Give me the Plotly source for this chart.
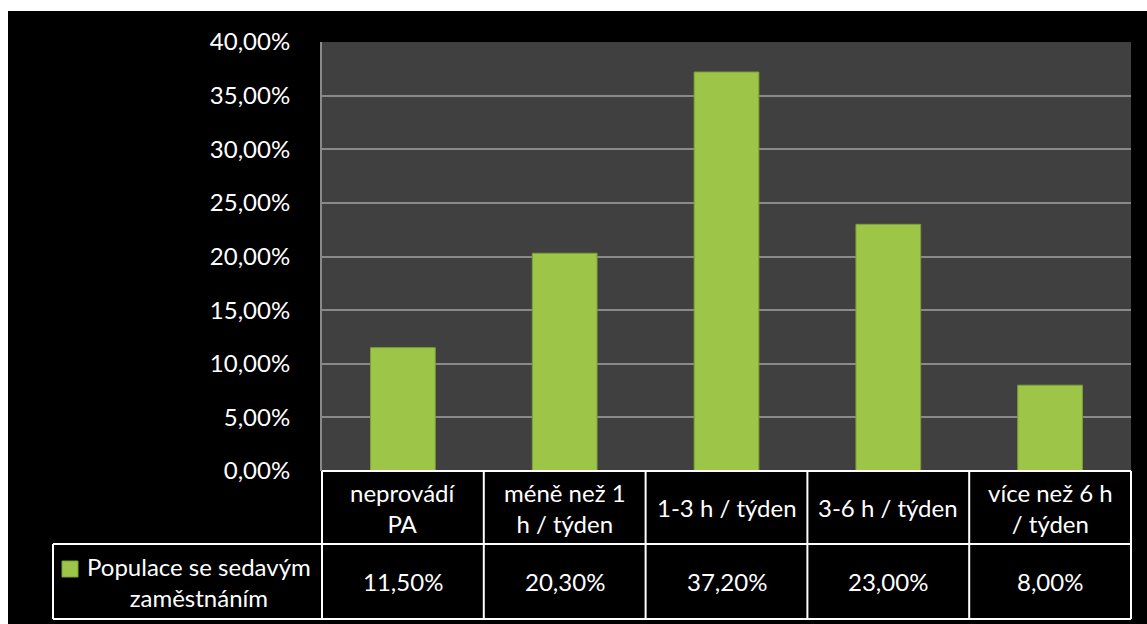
import plotly.graph_objects as go

categories = ["neprovádí PA", "méně než 1 h / týden", "1-3 h / týden", "3-6 h / týden", "více než 6 h / týden"]
header_labels = ["neprovádí<br>PA", "méně než 1<br>h / týden", "1-3 h / týden", "3-6 h / týden", "více než 6 h<br>/ týden"]
values = [0.115, 0.203, 0.372, 0.230, 0.080]
series_name = "Populace se sedavým<br>zaměstnáním"
y_ticks = [0, 0.05, 0.10, 0.15, 0.20, 0.25, 0.30, 0.35, 0.40]

W, H = 1147, 624
L, R, T, B = 322, 16, 42, 153
pw, ph = W - L - R, H - T - B

def px_x(px):
    return (px - L) / pw

def px_y(py):
    return (H - B - py) / ph

FONT = "Lato"
FS = 24
green = "#9dc649"

fig = go.Figure()
fig.add_trace(go.Bar(
    x=categories, y=values, name=series_name,
    marker=dict(color=green, line=dict(color="#7e9f36", width=1)),
    width=0.4, showlegend=False,
))

n = len(categories)
shapes = []
annotations = []
line = dict(color="white", width=2)
row1_top, row1_bot, row2_bot = px_y(H - B), px_y(544), px_y(619)
legend_left = px_x(53)
# horizontal lines
shapes.append(dict(type="line", xref="x domain", yref="paper", x0=0, x1=1, y0=row1_top, y1=row1_top, line=line))
shapes.append(dict(type="line", xref="x domain", yref="paper", x0=legend_left, x1=1, y0=row1_bot, y1=row1_bot, line=line))
shapes.append(dict(type="line", xref="x domain", yref="paper", x0=legend_left, x1=1, y0=row2_bot, y1=row2_bot, line=line))
# vertical lines
for i in range(n + 1):
    xd = i / n
    shapes.append(dict(type="line", xref="x domain", yref="paper", x0=xd, x1=xd, y0=row1_top, y1=row2_bot, line=line))
shapes.append(dict(type="line", xref="x domain", yref="paper", x0=legend_left, x1=legend_left, y0=row1_bot, y1=row2_bot, line=line))

# white strips at top/left
shapes.append(dict(type="rect", xref="paper", yref="paper", x0=px_x(0), x1=px_x(8), y0=px_y(624), y1=px_y(0),
                   fillcolor="white", line=dict(width=0), layer="above"))
shapes.append(dict(type="rect", xref="paper", yref="paper", x0=px_x(0), x1=px_x(W), y0=px_y(11), y1=px_y(0),
                   fillcolor="white", line=dict(width=0), layer="above"))

# legend key square
shapes.append(dict(type="rect", xref="paper", yref="paper", x0=px_x(62), x1=px_x(78), y0=px_y(577), y1=px_y(561),
                   fillcolor=green, line=dict(color="#7e9f36", width=1)))

txt_font = dict(family=FONT, size=FS, color="white")
for cat, lab, v in zip(categories, header_labels, values):
    annotations.append(dict(x=cat, xref="x", y=(row1_top + row1_bot) / 2, yref="paper", text=lab,
                            xanchor="center", yanchor="middle",
                            showarrow=False, font=txt_font, align="center"))
    annotations.append(dict(x=cat, xref="x", y=(row1_bot + row2_bot) / 2, yref="paper",
                            text=f"{v*100:.2f}".replace(".", ",") + "%",
                            xanchor="center", yanchor="middle",
                            showarrow=False, font=txt_font))
annotations.append(dict(x=px_x(199), xref="paper", y=(row1_bot + row2_bot) / 2, yref="paper", text=series_name,
                        xanchor="center", yanchor="middle",
                        showarrow=False, font=txt_font, align="center"))

fig.update_layout(
    width=W, height=H,
    margin=dict(l=L, r=R, t=T, b=B),
    paper_bgcolor="black", plot_bgcolor="#404040",
    separators=", ",
    font=dict(family=FONT, size=FS, color="white"),
    shapes=shapes, annotations=annotations,
    bargap=0.6,
)
fig.update_xaxes(showticklabels=False, showgrid=False, zeroline=False, range=[-0.5, n - 0.5])
fig.update_yaxes(range=[0, 0.4], tickvals=y_ticks, tickformat=".2%", showgrid=True, gridcolor="#8a8a8a",
                 gridwidth=2, zeroline=False, showline=True, linecolor="#8a8a8a", linewidth=2,
                 ticks="outside", ticklen=0, ticklabelstandoff=25,
                 tickfont=txt_font)

fig.write_html("out.html")
